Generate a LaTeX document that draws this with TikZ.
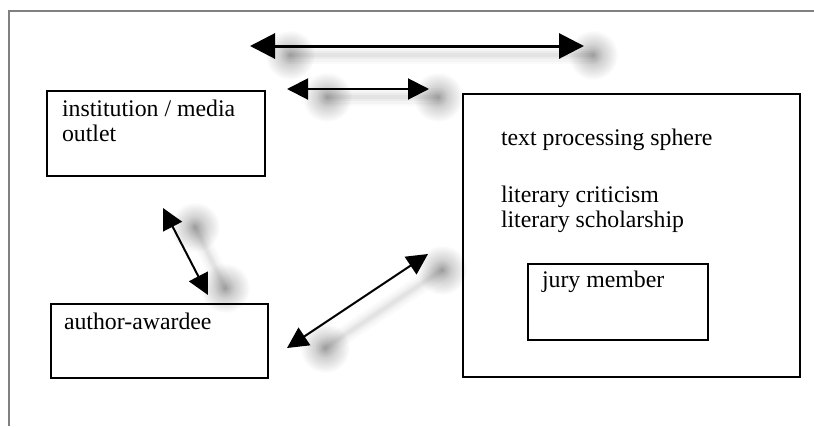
\documentclass[tikz,border=0pt]{standalone}
\usepackage{fontspec}
\setmainfont{Liberation Serif}
\usetikzlibrary{arrows.meta,fadings}

% soft round spot used under the arrow ends
\tikzfading[name=softspot, inner color=transparent!0, outer color=transparent!100]

% faint blurred band with two soft spots, drawn beneath an arrow
\newcommand\arrowshade[2]{%
  \foreach \w/\o in {18/0.02, 13/0.025, 8/0.03, 4/0.035}{%
    \draw[black, opacity=\o, line width=\w pt, line cap=round] (#1) -- (#2);}
  \fill[black, opacity=0.3, path fading=softspot] (#1) circle (25pt);
  \fill[black, opacity=0.3, path fading=softspot] (#2) circle (25pt);
}

\begin{document}
\begin{tikzpicture}[x=1pt, y=-1pt,
  box/.style={draw, line width=2.5pt, rectangle, inner sep=0pt, outer sep=0pt,
              anchor=north west},
  caption/.style={anchor=base west, inner sep=0pt, outer sep=0pt,
                  font=\fontsize{23.8}{25}\selectfont, align=left},
  frameline/.style={draw=black!50, line width=1.3pt},
  bigarrow/.style={line width=3pt, {Triangle[length=25pt,width=25pt]}-{Triangle[length=25pt,width=25pt]}},
  smallarrow/.style={line width=2pt, {Triangle[length=21pt,width=21pt]}-{Triangle[length=21pt,width=21pt]}}]

\useasboundingbox[fill=white] (0,0) rectangle (814,426);

% page frame
\draw[frameline] (9,426) -- (9,11) -- (814,11);

% boxes
\node[box, minimum width=218pt, minimum height=85pt] (inst) at (47.2,91.2) {};
\node[box, minimum width=217pt, minimum height=74pt] (author) at (51.2,304.2) {};
\node[box, minimum width=337pt, minimum height=283pt] (sphere) at (463.2,94.2) {};
\node[box, minimum width=180pt, minimum height=76pt] (jury) at (528.2,264.2) {};

% captions (base anchor sits on the last line of a two-line caption)
\node[caption] (instT) at (62,141.7) {institution / media\\outlet};
\node[caption] (authorT) at (64,329) {author-awardee};
\node[caption] (sphereT) at (501,145) {text processing sphere};
\node[caption] (critT) at (501,227) {literary criticism\\literary scholarship};
\node[caption] (juryT) at (542,287) {jury member};

% arrow end points
\coordinate (a1) at (250,46);  \coordinate (a2) at (584,46);
\coordinate (b1) at (287,89);  \coordinate (b2) at (429,89);
\coordinate (c1) at (163,208); \coordinate (c2) at (208,295);
\coordinate (d1) at (287,348); \coordinate (d2) at (428,254);

% shadows of the arrows
\coordinate (sa1) at (290,55);  \coordinate (sa2) at (593,55);
\coordinate (sb1) at (327,97);  \coordinate (sb2) at (438,97);
\coordinate (sc1) at (195,227); \coordinate (sc2) at (225,288);
\coordinate (sd1) at (325,348); \coordinate (sd2) at (442,270);
\arrowshade{sa1}{sa2}
\arrowshade{sb1}{sb2}
\arrowshade{sc1}{sc2}
\arrowshade{sd1}{sd2}

% arrows
\draw[bigarrow] (a1) -- (a2);
\draw[smallarrow] (b1) -- (b2);
\draw[smallarrow] (c1) -- (c2);
\draw[smallarrow] (d1) -- (d2);
\end{tikzpicture}
\end{document}
